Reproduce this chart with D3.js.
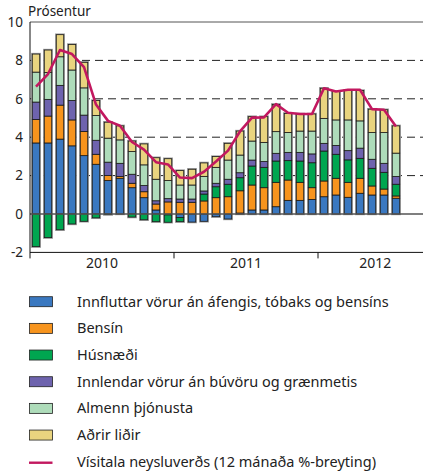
<!DOCTYPE html>
<html>
<head>
<meta charset="utf-8">
<script src="https://cdn.jsdelivr.net/npm/d3@7"></script>
<style>
  body { margin: 0; background: #fff; }
  svg { display: block; font-family: "Noto Sans", sans-serif; }
</style>
</head>
<body>
<div id="chart-area"></div>
<script>
// months jan 2010 - jul 2012
const months = [
  "2010-01", "2010-02", "2010-03", "2010-04", "2010-05", "2010-06", "2010-07", "2010-08", "2010-09", "2010-10", "2010-11", "2010-12",
  "2011-01", "2011-02", "2011-03", "2011-04", "2011-05", "2011-06", "2011-07", "2011-08", "2011-09", "2011-10", "2011-11", "2011-12",
  "2012-01", "2012-02", "2012-03", "2012-04", "2012-05", "2012-06", "2012-07"
];
const years = ["2010", "2011", "2012"];
const yTicks = [-2, 0, 2, 4, 6, 8, 10];

const innflutt = [3.70, 3.70, 3.90, 3.55, 3.04, 2.59, 1.74, 1.86, 1.37, 0.85, 0.21, -0.05,
  -0.18, -0.42, -0.38, -0.14, -0.26, 0.05, 0.21, 0.21, 0.38, 0.71, 0.71, 0.76,
  0.90, 0.99, 0.87, 1.08, 0.99, 0.99, 0.82];
const bensin = [1.22, 1.40, 1.77, 1.35, 1.26, 0.52, 0.26, 0.09, 0.23, 0.31, 0.31, 0.63,
  0.61, 0.61, 0.68, 0.85, 0.90, 1.16, 1.30, 1.16, 1.27, 1.06, 0.94, 0.61,
  0.82, 0.87, 0.78, 0.78, 0.47, 0.31, 0.12];
const husnaedi = [-1.70, -1.23, -0.82, -0.52, -0.38, -0.20, -0.03, 0.00, -0.16, -0.30, -0.40, -0.38,
  -0.22, 0.00, 0.36, 0.57, 0.65, 0.68, 0.99, 1.06, 1.11, 1.01, 1.11, 1.30,
  1.56, 1.25, 1.17, 1.04, 0.92, 0.87, 0.61];
const innlendar = [0.91, 0.87, 1.03, 1.01, 0.85, 0.73, 0.70, 0.69, 0.47, 0.32, 0.17, 0.17,
  0.17, 0.17, 0.16, 0.18, 0.26, 0.26, 0.31, 0.30, 0.40, 0.43, 0.45, 0.46,
  0.40, 0.46, 0.48, 0.53, 0.47, 0.47, 0.40];
const thjonusta = [1.56, 1.40, 1.49, 1.59, 1.42, 1.29, 1.25, 1.22, 1.18, 1.08, 1.12, 0.94,
  0.73, 0.73, 0.76, 0.83, 1.00, 0.92, 0.99, 1.00, 1.13, 1.04, 1.11, 1.19,
  1.30, 1.33, 1.60, 1.42, 1.39, 1.60, 1.22];
const adrir = [0.94, 1.17, 1.15, 1.33, 1.33, 0.78, 0.83, 0.73, 0.55, 1.09, 1.12, 1.14,
  0.75, 0.82, 0.70, 0.56, 0.87, 1.25, 1.27, 1.34, 1.42, 0.99, 0.89, 0.89,
  1.57, 1.48, 1.53, 1.58, 1.22, 1.19, 1.42];
const visitala = [6.63, 7.29, 8.54, 8.33, 7.65, 5.70, 4.85, 4.60, 3.75, 3.35, 2.70, 2.58,
  1.90, 1.87, 2.20, 2.73, 3.30, 4.30, 5.02, 5.03, 5.72, 5.27, 5.21, 5.21,
  6.55, 6.38, 6.47, 6.47, 5.46, 5.43, 4.56];

const seriesNames = [
  "Innfluttar vörur án áfengis, tóbaks og bensíns",
  "Bensín",
  "Húsnæði",
  "Innlendar vörur án búvöru og grænmetis",
  "Almenn þjónusta",
  "Aðrir liðir"
];
const lineName = "Vísitala neysluverðs (12 mánaða %-breyting)";
const colors = ["#3a78c0", "#f7941d", "#00a650", "#6e63ae", "#aedcba", "#e9d47f"];
const lineColor = "#c2185f";

const chartSize = { width: 423, height: 474 };
const plot = { left: 30, right: 423, top: 22, bottom: 252.4 };

const drawChart = function () {
  const svg = d3.select("#chart-area").append("svg")
    .attr("width", chartSize.width)
    .attr("height", chartSize.height);

  const rows = months.map((m, i) => ({
    month: m, s0: innflutt[i], s1: bensin[i], s2: husnaedi[i],
    s3: innlendar[i], s4: thjonusta[i], s5: adrir[i]
  }));
  const keys = ["s0", "s1", "s2", "s3", "s4", "s5"];
  const stacked = d3.stack().keys(keys).offset(d3.stackOffsetDiverging)(rows);

  const x = d3.scaleBand().domain(months)
    .range([plot.left, plot.left + months.length * 12])
    .paddingInner(0.38).paddingOuter(0.19);
  // month units for year ticks / labels
  const xm = d3.scaleLinear().domain([0, months.length]).range(x.range());
  const y = d3.scaleLinear().domain([-2, 10]).range([plot.bottom, plot.top]);

  // dashed grid
  svg.append("g").selectAll("line")
    .data(yTicks.filter(t => t > 0 && t < 10))
    .join("line")
    .attr("x1", plot.left).attr("x2", plot.right)
    .attr("y1", d => y(d)).attr("y2", d => y(d))
    .attr("stroke", "#222").attr("stroke-width", 1)
    .attr("stroke-dasharray", "8,5");

  // grey halo behind each bar
  svg.append("g").selectAll("rect")
    .data(rows)
    .join("rect")
    .attr("x", d => x(d.month))
    .attr("width", x.bandwidth())
    .attr("y", (d, i) => y(d3.max(stacked, s => s[i][1])))
    .attr("height", (d, i) => y(d3.min(stacked, s => s[i][0])) - y(d3.max(stacked, s => s[i][1])))
    .attr("fill", "none").attr("stroke", "#9a9a9a").attr("stroke-width", 2.4);

  svg.append("g").selectAll("g")
    .data(stacked)
    .join("g")
    .attr("fill", (d, i) => colors[i])
    .selectAll("rect")
    .data(d => d.filter(p => Math.abs(p[1] - p[0]) > 0.001))
    .join("rect")
    .attr("x", d => x(d.data.month))
    .attr("width", x.bandwidth())
    .attr("y", d => y(Math.max(d[0], d[1])))
    .attr("height", d => Math.abs(y(d[0]) - y(d[1])))
    .attr("stroke", "#1a1a1a").attr("stroke-width", 0.8);

  // zero line
  svg.append("line")
    .attr("x1", plot.left).attr("x2", plot.right)
    .attr("y1", y(0)).attr("y2", y(0))
    .attr("stroke", "#555").attr("stroke-width", 1.4);

  // frame
  svg.append("line").attr("x1", plot.left).attr("x2", plot.right)
    .attr("y1", plot.top).attr("y2", plot.top)
    .attr("stroke", "#555").attr("stroke-width", 1);
  svg.append("line").attr("x1", plot.left).attr("x2", plot.right)
    .attr("y1", plot.bottom).attr("y2", plot.bottom)
    .attr("stroke", "#111").attr("stroke-width", 1);
  svg.append("line").attr("x1", plot.left).attr("x2", plot.left)
    .attr("y1", plot.top).attr("y2", plot.bottom + 6)
    .attr("stroke", "#111").attr("stroke-width", 1);

  // year ticks
  svg.append("g").selectAll("line")
    .data([12, 24])
    .join("line")
    .attr("x1", d => xm(d)).attr("x2", d => xm(d))
    .attr("y1", plot.bottom).attr("y2", plot.bottom + 6)
    .attr("stroke", "#111");

  // year labels, centred on the visible part of each year
  const labelSpan = [-1.4, 33.55];
  svg.append("g").selectAll("text")
    .data(years)
    .join("text")
    .attr("x", (d, i) => xm((Math.max(i * 12, labelSpan[0]) + Math.min(i * 12 + 12, labelSpan[1])) / 2))
    .attr("y", 268)
    .attr("text-anchor", "middle")
    .attr("font-size", 14)
    .attr("fill", "#222")
    .text(d => d);

  // y labels
  svg.append("g").selectAll("text")
    .data(yTicks)
    .join("text")
    .attr("x", 23)
    .attr("y", d => y(d))
    .attr("dy", "0.36em")
    .attr("text-anchor", "end")
    .attr("font-size", 13.5)
    .attr("fill", "#222")
    .text(d => d);

  svg.append("text")
    .attr("x", 28).attr("y", 16)
    .attr("font-size", 13.5).attr("fill", "#222")
    .text("Prósentur");

  // CPI line
  const line = d3.line()
    .x((d, i) => x(months[i]) + x.bandwidth() / 2)
    .y(d => y(d));
  svg.append("path")
    .attr("d", line(visitala))
    .attr("fill", "none")
    .attr("stroke", lineColor)
    .attr("stroke-width", 2.6)
    .attr("stroke-linejoin", "round");

  // legend
  const legendItems = seriesNames.map((n, i) => ({ name: n, color: colors[i], type: "box" }))
    .concat([{ name: lineName, color: lineColor, type: "line" }]);
  const legend = svg.append("g").selectAll("g")
    .data(legendItems)
    .join("g")
    .attr("transform", (d, i) => `translate(0, ${301.7 + i * 26.67})`);

  legend.filter(d => d.type === "box").append("rect")
    .attr("x", 29.5).attr("y", -5)
    .attr("width", 23).attr("height", 10)
    .attr("fill", d => d.color)
    .attr("stroke", "#222").attr("stroke-width", 0.8);

  legend.filter(d => d.type === "line").append("line")
    .attr("x1", 29).attr("x2", 52.5)
    .attr("y1", 1).attr("y2", 1)
    .attr("stroke", d => d.color).attr("stroke-width", 2.4);

  legend.append("text")
    .attr("x", 77).attr("y", 0)
    .attr("dy", "0.35em")
    .attr("font-size", 14.5)
    .attr("fill", "#222")
    .text(d => d.name);
}

window.onload = drawChart;
</script>
</body>
</html>
